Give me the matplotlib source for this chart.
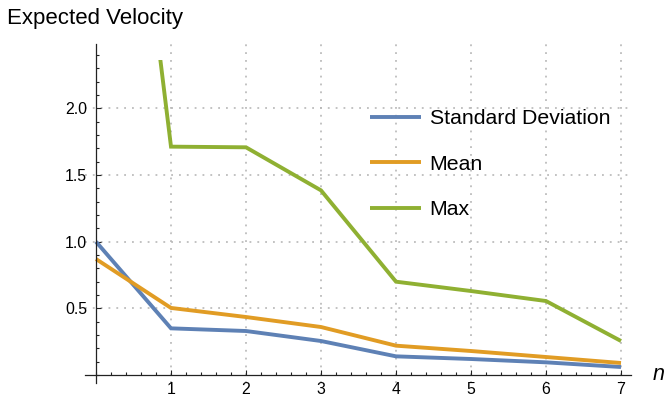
import matplotlib.pyplot as plt
from matplotlib.patches import Rectangle
from matplotlib.ticker import MultipleLocator

plt.rcParams['font.family'] = ['Liberation Sans', 'DejaVu Sans']

# data
n = [0, 1, 2, 3, 4, 5, 6, 7]
std_dev = [1.0, 0.35, 0.33, 0.255, 0.14, 0.12, 0.095, 0.06]
mean = [0.87, 0.503, 0.435, 0.36, 0.22, 0.18, 0.135, 0.09]
vmax = [6.3, 1.713, 1.708, 1.385, 0.70, 0.63, 0.555, 0.255]
labels = ['Standard Deviation', 'Mean', 'Max']
colors = ['#5E81B5', '#E19C24', '#8FB032']

fig = plt.figure(figsize=(6.64, 3.96), dpi=100)
ax = fig.add_axes([84.75 / 664, 13 / 396, 546 / 664, 338.6 / 396])
ax.set_xlim(-0.15, 7.13)
ax.set_ylim(-0.06, 2.48)

# grid
ax.grid(True, color='#b8b8b8', linewidth=1.2, linestyle=(0, (1.1, 3.6)))
ax.set_axisbelow(True)

# clip region for the plot range (max series goes off the top)
clip = Rectangle((-0.15, -0.06), 7.3, 2.42, transform=ax.transData,
                 facecolor='none', edgecolor='none')
ax.add_patch(clip)

for ys, lab, c in zip([std_dev, mean, vmax], labels, colors):
    ln, = ax.plot(n, ys, color=c, linewidth=2.8, label=lab,
                  solid_joinstyle='miter', solid_capstyle='butt')
    ln.set_clip_path(clip)

# axes through origin
for s in ['top', 'right']:
    ax.spines[s].set_visible(False)
ax.spines['left'].set_position(('data', 0))
ax.spines['bottom'].set_position(('data', 0))
for s in ['left', 'bottom']:
    ax.spines[s].set_color('#222222')
    ax.spines[s].set_linewidth(0.9)

ax.set_xticks([1, 2, 3, 4, 5, 6, 7])
ax.set_yticks([0.5, 1.0, 1.5, 2.0])
ax.set_yticklabels(['0.5', '1.0', '1.5', '2.0'])
ax.xaxis.set_minor_locator(MultipleLocator(0.2))
ax.yaxis.set_minor_locator(MultipleLocator(0.1))
ax.tick_params(which='both', direction='in', color='#222222', width=0.8,
               labelsize=11.4, labelcolor='black')
ax.tick_params(which='major', length=3.5)
ax.tick_params(which='minor', length=2.2)
ax.tick_params(axis='x', pad=5)
ax.tick_params(axis='y', pad=6.5)

# legend
ax.legend(loc='upper left', bbox_to_anchor=(370 / 664, 1 - 109 / 396),
          bbox_transform=fig.transFigure, frameon=False, fontsize=15.3,
          handlelength=2.4, handletextpad=0.4, labelspacing=1.25,
          borderpad=0, borderaxespad=0)

fig.text(7 / 664, 1 - 24 / 396, 'Expected Velocity', fontsize=16,
         va='baseline', ha='left')
fig.text(653 / 664, 16 / 396, 'n', fontsize=15.5, style='italic',
         va='baseline', ha='left')

fig.savefig('out.png', dpi=100)
